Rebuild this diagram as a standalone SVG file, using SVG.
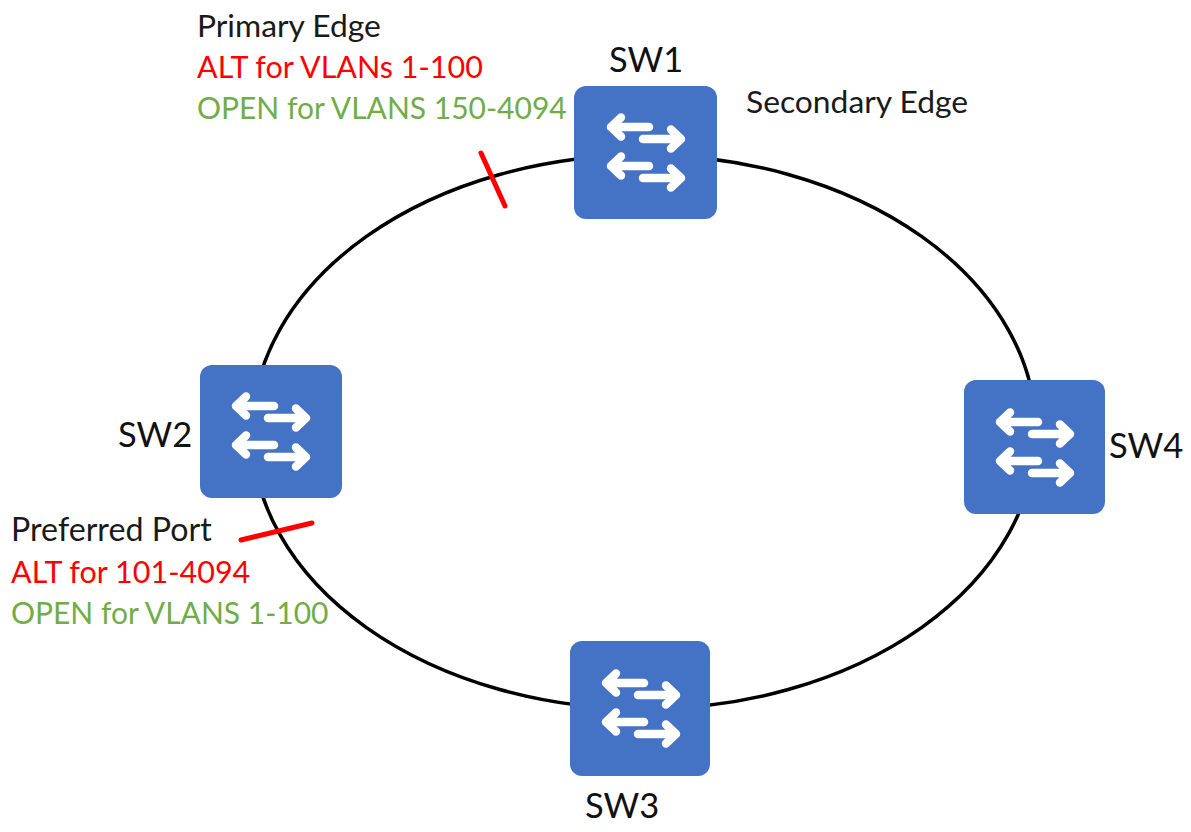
<svg xmlns="http://www.w3.org/2000/svg" width="1191" height="832" viewBox="0 0 1191 832">
<style>
text{font-family:Lato,"Liberation Sans",sans-serif}
.k{fill:#1a1a1a;font-size:31.8px}.r{fill:#ff0000;font-size:30.5px}.g{fill:#70ad47;font-size:30px}
.sw{font-size:34.5px;fill:#111}
.a{fill:none;stroke:#fff;stroke-width:8.5;stroke-linecap:round;stroke-linejoin:round}
.tick{stroke:#ff0000;stroke-width:5;stroke-linecap:round}
</style>
<defs>
<g id="icon">
<path class="a" d="M47 31.500L37 41L47 50.500M37 41H75M97 43.500L107 53L97 62.500M107 53H69M47 70.500L37 80L47 89.500M37 80H75M97 82.500L107 92L97 101.500M107 92H69"/>
</g>
</defs>
<rect width="1191" height="832" fill="#fff"/>
<g id="connectors">
<ellipse cx="644" cy="432" rx="392" ry="277" fill="none" stroke="#000" stroke-width="3.500"/>
<line class="tick" x1="481" y1="153" x2="505" y2="206"/>
<line class="tick" x1="241" y1="540" x2="312" y2="523"/>
</g>
<g id="sw1"><rect x="574" y="86" width="143" height="133" rx="12" fill="#4472c4"/><use href="#icon" x="574" y="86"/><text class="sw" x="609" y="72">SW1</text></g>
<g id="sw2"><rect x="200" y="365" width="142" height="133" rx="12" fill="#4472c4"/><use href="#icon" x="199" y="365"/><text class="sw" x="118" y="447">SW2</text></g>
<g id="sw3"><rect x="570" y="641" width="140" height="135" rx="12" fill="#4472c4"/><use href="#icon" x="569" y="642"/><text class="sw" x="585" y="818">SW3</text></g>
<g id="sw4"><rect x="964" y="380" width="141" height="134" rx="12" fill="#4472c4"/><use href="#icon" x="963" y="381"/><text class="sw" x="1109" y="458">SW4</text></g>
<g id="labels">
<text class="k" x="197" y="37">Primary Edge</text>
<text class="r" x="197" y="78">ALT for VLANs 1-100</text>
<text class="g" x="197" y="119">OPEN for VLANS 150-4094</text>
<text class="k" x="746" y="113">Secondary Edge</text>
<text class="k" x="11" y="541" style="font-size:32.200px">Preferred Port</text>
<text class="r" x="11" y="583">ALT for 101-4094</text>
<text class="g" x="11" y="624">OPEN for VLANS 1-100</text>
</g>
</svg>
